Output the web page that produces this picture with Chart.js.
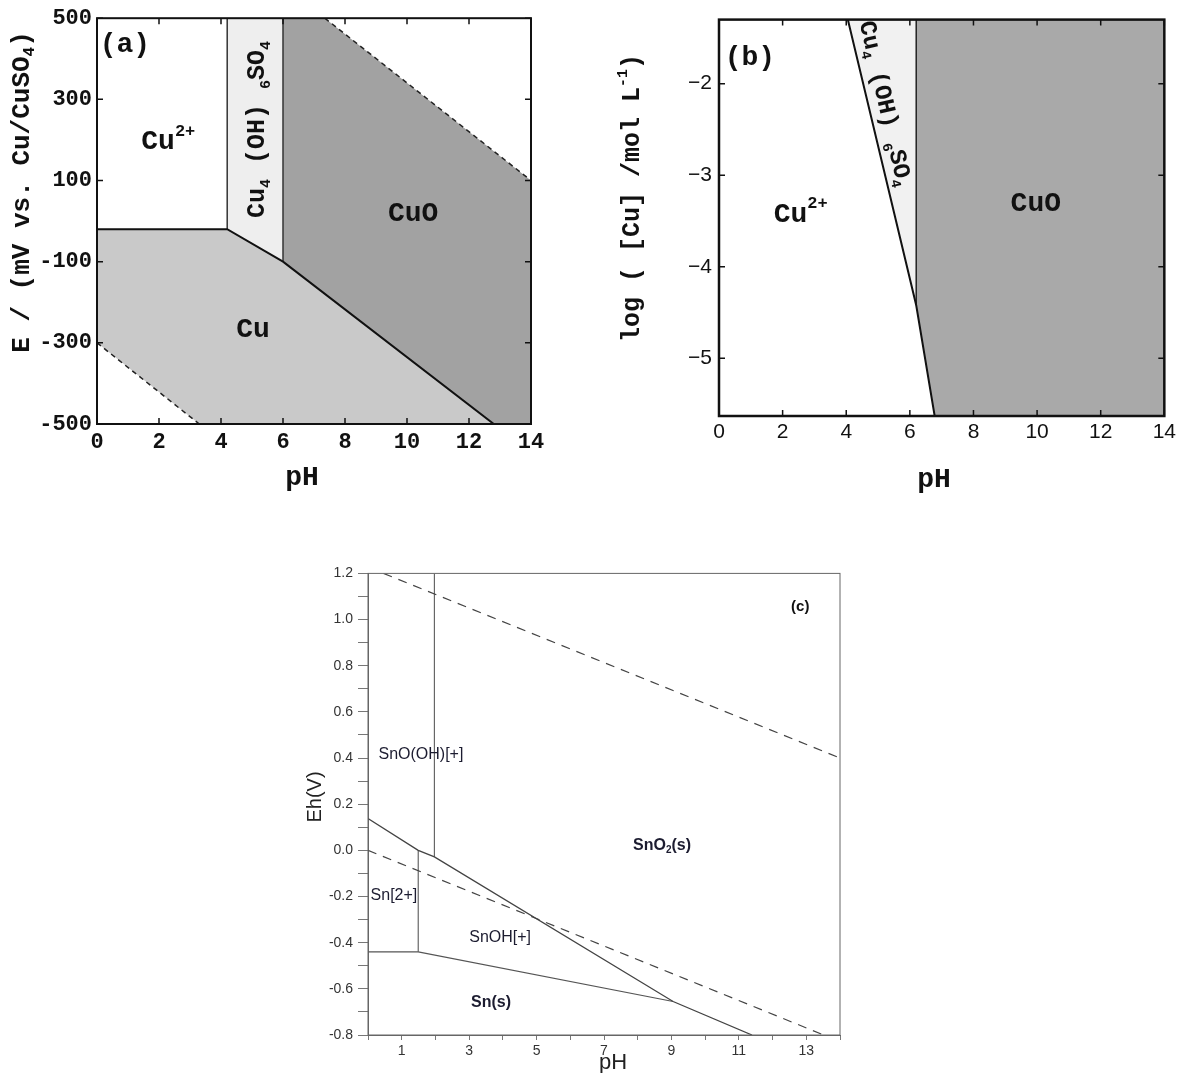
<!DOCTYPE html>
<html>
<head>
<meta charset="utf-8">
<title>Cu and Sn phase diagrams</title>
<script src="https://cdn.jsdelivr.net/npm/chart.js@4.4.1/dist/chart.umd.min.js"></script>
<style>
  html, body { margin: 0; padding: 0; background: #fff; }
  body { width: 1180px; height: 1073px; position: relative; overflow: hidden; }
  canvas { position: absolute; }
</style>
</head>
<body>
<canvas id="chartA" width="560" height="500" style="left:0;top:0"></canvas>
<canvas id="chartB" width="580" height="500" style="left:600px;top:0"></canvas>
<canvas id="chartC" width="570" height="513" style="left:290px;top:560px"></canvas>
<script>
// ================= DATA: panel (a) E vs pH, Cu / sulfate =================
const phTicksA = [0, 2, 4, 6, 8, 10, 12, 14];
const eRangeA = [-500, 500];
const cu2RegionA = [[0, -20], [4.2, -20], [4.2, 500], [0, 500]];
const cu4RegionA = [[4.2, -20], [4.2, 500], [6, 500], [6, -100]];
const cuoRegionA = [[6, -100], [6, 500], [7.35, 500], [14, 100], [14, -500], [12.8, -500]];
const cuRegionA  = [[0, -20], [4.2, -20], [6, -100], [12.8, -500], [3.3, -500], [0, -300]];
const boundaryA  = [[0, -20], [4.2, -20], [6, -100], [12.8, -500]];
const wallA1     = [[4.2, -20], [4.2, 500]];
const wallA2     = [[6, -100], [6, 500]];
const o2LineA    = [[7.35, 500], [14, 100]];
const h2LineA    = [[0, -300], [3.3, -500]];

// ================= DATA: panel (b) log[Cu] vs pH =================
const phTicksB = [0, 2, 4, 6, 8, 10, 12, 14];
const logTicksB = [-5, -4, -3, -2];
const logRangeB = [-5.63, -1.3];
const cu4RegionB = [[4.05, -1.3], [6.2, -1.3], [6.2, -4.42]];
const cuoRegionB = [[6.2, -1.3], [14, -1.3], [14, -5.63], [6.78, -5.63], [6.2, -4.42]];
const slantB     = [[4.05, -1.3], [6.2, -4.42], [6.78, -5.63]];
const wallB      = [[6.2, -1.3], [6.2, -4.42]];

// ================= DATA: panel (c) Eh vs pH, Sn =================
const ehRangeC = [-0.8, 1.2];
const o2LineC   = [[0.46, 1.2], [14, 0.4]];
const h2LineC   = [[0, 0], [13.52, -0.8]];
const sno2EdgeC = [[0, 0.138], [1.49, 0], [1.97, -0.028], [9.05, -0.655], [11.39, -0.8]];
const snoohWall = [[1.97, 1.2], [1.97, -0.028]];
const sn2Wall   = [[1.49, 0], [1.49, -0.44]];
const snEdgeC   = [[0, -0.44], [1.49, -0.44], [9.05, -0.655]];

const MONO = "'Liberation Mono', 'Courier New', monospace";
const SANS = "'Liberation Sans', Arial, sans-serif";

// ================= HELPERS =================
const pts = arr => arr.map(([x, y]) => ({x, y}));

function area(arr, color) {
    return { data: pts(arr), fill: 'shape', backgroundColor: color,
             borderColor: 'rgba(0,0,0,0)', borderWidth: 1, pointRadius: 0, order: 2 };
}
function edge(arr, color, width, dash) {
    return { data: pts(arr), fill: false, borderColor: color, borderWidth: width,
             borderDash: dash || [], pointRadius: 0, order: 1 };
}

// segs: [[text, ''|'sub'|'sup'], ...], drawn centred on (cx, cy)
function richText(ctx, segs, cx, cy, angle, size, family, weight, color) {
    const big = `${weight} ${size}px ${family}`;
    const small = `${weight} ${Math.round(size * 0.6)}px ${family}`;
    let w = 0;
    segs.forEach(([t, k]) => { ctx.font = k ? small : big; w += ctx.measureText(t).width; });
    ctx.save();
    ctx.translate(cx, cy);
    ctx.rotate(angle * Math.PI / 180);
    ctx.fillStyle = color;
    ctx.textAlign = 'left';
    ctx.textBaseline = 'middle';
    let px = -w / 2;
    segs.forEach(([t, k]) => {
        ctx.font = k ? small : big;
        const dy = k === 'sub' ? size * 0.32 : k === 'sup' ? -size * 0.38 : 0;
        ctx.fillText(t, px, dy);
        px += ctx.measureText(t).width;
    });
    ctx.restore();
}

// frame, inward ticks and region / axis labels (config kept out of chart options)
function phasePlugin(cfg) {
    return {
        id: 'phase',
        afterDraw(chart) {
            const {ctx, chartArea: a} = chart;
            const xs = chart.scales.x, ys = chart.scales.y;
            const f = cfg.frame;
            ctx.save();
            ctx.strokeStyle = f.color;
            ctx.lineWidth = f.width;
            ctx.strokeRect(a.left, a.top, a.right - a.left, a.bottom - a.top);
            if (f.inTicks) {
                ctx.lineWidth = f.tickWidth;
                ctx.beginPath();
                xs.ticks.forEach(tk => {
                    const p = xs.getPixelForValue(tk.value);
                    ctx.moveTo(p, a.bottom); ctx.lineTo(p, a.bottom - f.inTicks);
                    ctx.moveTo(p, a.top); ctx.lineTo(p, a.top + f.inTicks);
                });
                ys.ticks.forEach(tk => {
                    const p = ys.getPixelForValue(tk.value);
                    ctx.moveTo(a.left, p); ctx.lineTo(a.left + f.inTicks, p);
                    ctx.moveTo(a.right, p); ctx.lineTo(a.right - f.inTicks, p);
                });
                ctx.stroke();
            }
            cfg.labels.forEach(l => {
                const cx = l.pos ? xs.getPixelForValue(l.pos[0]) : l.px;
                const cy = l.pos ? ys.getPixelForValue(l.pos[1]) : l.py;
                richText(ctx, l.segs, cx, cy, l.angle || 0, l.size, l.family,
                         l.weight || 'normal', l.color || '#111');
            });
            ctx.restore();
        }
    };
}

function baseOptions(pad, yWidth, xHeight) {
    return {
        responsive: false,
        devicePixelRatio: 1,
        animation: false,
        events: [],
        layout: { padding: pad },
        plugins: { legend: { display: false }, tooltip: { enabled: false } },
        scales: {
            x: { type: 'linear', afterFit: s => { s.height = xHeight; } },
            y: { type: 'linear', afterFit: s => { s.width = yWidth; } }
        }
    };
}

// ================= PANEL (a) =================
const optA = baseOptions({left: 0, top: 15, right: 29, bottom: 0}, 97, 76);
Object.assign(optA.scales.x, {
    min: 0, max: 14,
    afterBuildTicks: s => { s.ticks = phTicksA.map(v => ({value: v})); },
    grid: { display: false, drawTicks: false }, border: { display: false },
    ticks: { padding: 5, color: '#111', font: { family: MONO, size: 22, weight: 'bold' } }
});
Object.assign(optA.scales.y, {
    min: eRangeA[0], max: eRangeA[1],
    ticks: { stepSize: 200, padding: 5, color: '#111', font: { family: MONO, size: 22, weight: 'bold' } },
    grid: { display: false, drawTicks: false }, border: { display: false }
});
const labelsA = {
    frame: { color: '#111', width: 2, inTicks: 6, tickWidth: 1.5 },
    labels: [
        { segs: [['(a)', '']], pos: [0.9, 434], size: 28, family: MONO, weight: 'bold' },
        { segs: [['Cu', ''], ['2+', 'sup']], pos: [2.3, 194], size: 28, family: MONO, weight: 'bold' },
        { segs: [['CuO', '']], pos: [10.2, 18], size: 28, family: MONO, weight: 'bold' },
        { segs: [['Cu', '']], pos: [5.03, -268], size: 28, family: MONO, weight: 'bold' },
        { segs: [['Cu', ''], ['4', 'sub'], [' (OH) ', ''], ['6', 'sub'], ['SO', ''], ['4', 'sub']],
          pos: [5.19, 226], angle: -90, size: 25, family: MONO, weight: 'bold' },
        { segs: [['E / (mV vs. Cu/CuSO', ''], ['4', 'sub'], [')', '']],
          px: 22, py: 192, angle: -90, size: 26, family: MONO, weight: 'bold' },
        { segs: [['pH', '']], px: 302, py: 478, size: 28, family: MONO, weight: 'bold' }
    ]
};
new Chart(chartA, {
    type: 'line',
    data: { datasets: [
        area(cuoRegionA, '#a2a2a2'),
        area(cuRegionA, '#c9c9c9'),
        area(cu4RegionA, '#eeeeee'),
        edge(boundaryA, '#111', 2),
        edge(wallA1, '#333', 1.5),
        edge(wallA2, '#333', 1.5),
        edge(o2LineA, '#222', 1.5, [5, 4]),
        edge(h2LineA, '#222', 1.5, [5, 4])
    ] },
    options: optA,
    plugins: [phasePlugin(labelsA)]
});

// ================= PANEL (b) =================
const optB = baseOptions({left: 0, top: 6, right: 14, bottom: 0}, 119, 84);
Object.assign(optB.scales.x, {
    min: 0, max: 14,
    afterBuildTicks: s => { s.ticks = phTicksB.map(v => ({value: v})); },
    grid: { display: false, drawTicks: false }, border: { display: false },
    ticks: { padding: 4, color: '#111', font: { family: SANS, size: 21 } }
});
Object.assign(optB.scales.y, {
    min: logRangeB[0], max: logRangeB[1],
    afterBuildTicks: s => { s.ticks = logTicksB.map(v => ({value: v})); },
    ticks: { padding: 7, color: '#111', font: { family: SANS, size: 21 },
             callback: v => String(v).replace('-', '\u2212') },
    grid: { display: false, drawTicks: false }, border: { display: false }
});
const labelsB = {
    frame: { color: '#111', width: 2.5, inTicks: 6, tickWidth: 1.5 },
    labels: [
        { segs: [['(b)', '']], pos: [0.97, -1.72], size: 28, family: MONO, weight: 'bold' },
        { segs: [['Cu', ''], ['2+', 'sup']], pos: [2.57, -3.43], size: 28, family: MONO, weight: 'bold' },
        { segs: [['CuO', '']], pos: [9.96, -3.31], size: 28, family: MONO, weight: 'bold' },
        { segs: [['Cu', ''], ['4', 'sub'], [' (OH) ', ''], ['6', 'sub'], ['SO', ''], ['4', 'sub']],
          pos: [5.2, -2.22], angle: 77, size: 24, family: MONO, weight: 'bold' },
        { segs: [['log ( [Cu] /mol L', ''], ['-1', 'sup'], [')', '']],
          px: 33, py: 198, angle: -90, size: 25, family: MONO, weight: 'bold' },
        { segs: [['pH', '']], px: 334, py: 480, size: 28, family: MONO, weight: 'bold' }
    ]
};
new Chart(chartB, {
    type: 'line',
    data: { datasets: [
        area(cuoRegionB, '#a9a9a9'),
        area(cu4RegionB, '#f1f1f1'),
        edge(slantB, '#111', 2),
        edge(wallB, '#222', 1.5)
    ] },
    options: optB,
    plugins: [phasePlugin(labelsB)]
});

// ================= PANEL (c) =================
const optC = baseOptions({left: 0, top: 13, right: 20, bottom: 0}, 78, 38);
Object.assign(optC.scales.x, {
    min: 0, max: 14,
    ticks: { stepSize: 1, padding: 3, color: '#333', font: { family: SANS, size: 14 },
             callback: v => (v % 2 === 1 ? String(v) : '') },
    grid: { drawOnChartArea: false, tickLength: 5, tickColor: '#777' },
    border: { color: '#666', width: 1 }
});
Object.assign(optC.scales.y, {
    min: ehRangeC[0], max: ehRangeC[1],
    ticks: { stepSize: 0.1, padding: 5, color: '#333', font: { family: SANS, size: 14 },
             callback: v => (Math.round(v * 10) % 2 === 0 ? v.toFixed(1) : '') },
    grid: { drawOnChartArea: false, tickLength: 10, tickColor: '#777' },
    border: { color: '#666', width: 1 }
});
const labelsC = {
    frame: { color: '#666', width: 1, inTicks: 0 },
    labels: [
        { segs: [['(c)', '']], pos: [12.82, 1.057], size: 15, family: SANS, weight: 'bold', color: '#111' },
        { segs: [['SnO(OH)[+]', '']], pos: [1.57, 0.416], size: 16, family: SANS, color: '#1c1c30' },
        { segs: [['Sn[2+]', '']], pos: [0.77, -0.198], size: 16, family: SANS, color: '#1c1c30' },
        { segs: [['SnOH[+]', '']], pos: [3.92, -0.376], size: 16, family: SANS, color: '#1c1c30' },
        { segs: [['SnO', ''], ['2', 'sub'], ['(s)', '']], pos: [8.72, 0.022], size: 16, family: SANS, weight: 'bold', color: '#1c1c30' },
        { segs: [['Sn(s)', '']], pos: [3.65, -0.661], size: 16, family: SANS, weight: 'bold', color: '#1c1c30' },
        { segs: [['Eh(V)', '']], px: 25, py: 237, angle: -90, size: 20, family: SANS, color: '#222' },
        { segs: [['pH', '']], px: 323, py: 503, size: 22, family: SANS, color: '#222' }
    ]
};
new Chart(chartC, {
    type: 'line',
    data: { datasets: [
        edge(o2LineC, '#444', 1.2, [9, 7]),
        edge(h2LineC, '#444', 1.2, [9, 7]),
        edge(sno2EdgeC, '#444', 1.3),
        edge(snoohWall, '#666', 1.2),
        edge(sn2Wall, '#666', 1.2),
        edge(snEdgeC, '#555', 1.2)
    ] },
    options: optC,
    plugins: [phasePlugin(labelsC)]
});
</script>
</body>
</html>
